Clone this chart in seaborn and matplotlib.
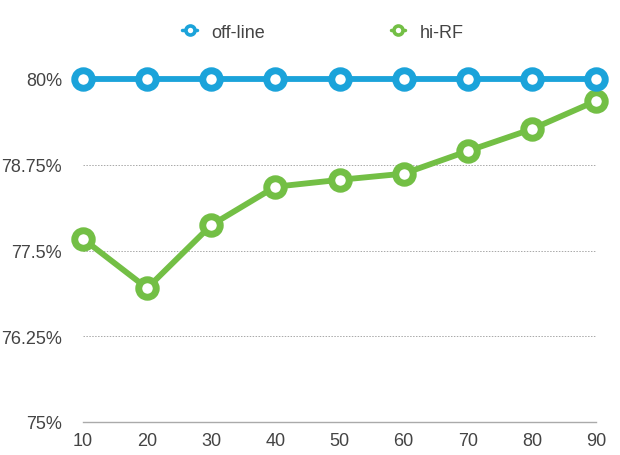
import pandas as pd
import matplotlib.pyplot as plt
import seaborn as sns
from matplotlib.lines import Line2D
from matplotlib.ticker import FuncFormatter

# dados
x_vals = [10, 20, 30, 40, 50, 60, 70, 80, 90]
offline = [80, 80, 80, 80, 80, 80, 80, 80, 80]
hi_rf = [77.67, 76.95, 77.87, 78.43, 78.53, 78.62, 78.95, 79.27, 79.68]
series_names = ['off-line', 'hi-RF']
y_ticks = [75, 76.25, 77.5, 78.75, 80]

cores = {'off-line': '#1ba3da', 'hi-RF': '#73bf45'}

df = pd.DataFrame({
    'x': x_vals * 2,
    'valor': offline + hi_rf,
    'serie': [series_names[0]] * len(x_vals) + [series_names[1]] * len(x_vals),
})

sns.set_style('white')
plt.rcParams['font.family'] = ['Liberation Sans', 'DejaVu Sans']

fig = plt.figure(figsize=(6.2, 4.56), dpi=100)
ax = fig.add_axes([83 / 620, 1 - 423 / 456, (596 - 83) / 620, (423 - 80) / 456])

sns.lineplot(data=df, x='x', y='valor', hue='serie', palette=cores,
             hue_order=['hi-RF', 'off-line'],
             marker='o', markersize=12.6, markerfacecolor='white',
             markeredgewidth=5.0, linewidth=4.2, legend=False, ax=ax,
             clip_on=False, zorder=3)
for ln in ax.lines:
    ln.set_markeredgecolor(ln.get_color())

ax.set_xlim(10, 90)
ax.set_ylim(75, 80)
ax.set_xticks(x_vals)
ax.set_yticks(y_ticks)
ax.yaxis.set_major_formatter(FuncFormatter(lambda v, p: f'{v:g}%'))
ax.set_xlabel('')
ax.set_ylabel('')

for yt in y_ticks[1:]:
    ax.axhline(yt, color='#a8a8a8', linestyle=(0, (1.5, 1.5)), linewidth=0.7, zorder=1)

for s in ['top', 'right', 'left']:
    ax.spines[s].set_visible(False)
ax.spines['bottom'].set_color('#aaaaaa')
ax.spines['bottom'].set_linewidth(1)

ax.tick_params(axis='both', length=0, labelsize=13, colors='#444444')
ax.tick_params(axis='y', pad=15)
ax.tick_params(axis='x', pad=7)

handles = [Line2D([0], [0], color=cores[n], marker='o', markersize=6.5,
                  markerfacecolor='white', markeredgewidth=2.6, linewidth=2.5)
           for n in series_names]
fig.legend(handles, series_names, loc='center',
           bbox_to_anchor=(0.5 + 13 / 620, 1 - 33 / 456),
           ncol=2, frameon=False, fontsize=13, handlelength=0.8,
           columnspacing=6.95, labelcolor='#444444', handletextpad=0.8)

fig.savefig('out.png', dpi=100)
